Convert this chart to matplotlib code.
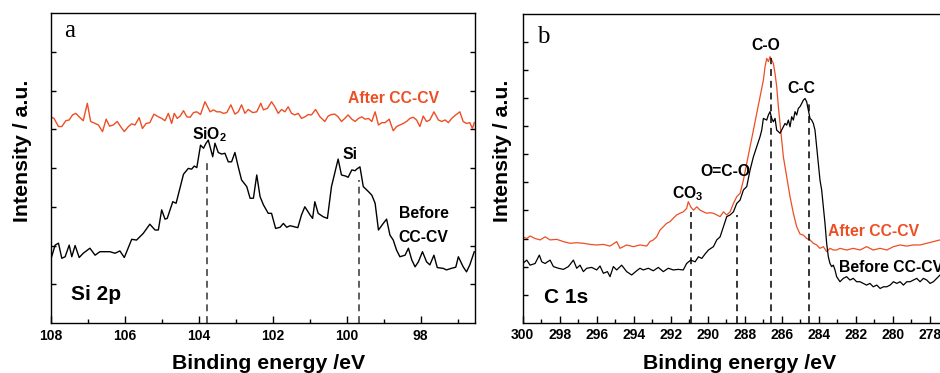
import matplotlib
matplotlib.use("Agg")
import matplotlib.pyplot as plt
from matplotlib.ticker import MultipleLocator, FixedLocator

plt.rcParams['font.family'] = ['Liberation Sans', 'DejaVu Sans']
plt.rcParams['font.weight'] = 'bold'
plt.rcParams['mathtext.fontset'] = 'custom'
plt.rcParams['mathtext.rm'] = 'Liberation Sans:bold'
plt.rcParams['mathtext.bf'] = 'Liberation Sans:bold'
plt.rcParams['mathtext.default'] = 'bf'

# ---------------- Data: Si 2p ----------------
si_e_before = [108.00, 107.88, 107.79, 107.70, 107.61, 107.50, 107.43, 107.34, 107.23, 107.12,
               106.94, 106.80, 106.67, 106.40, 106.26, 106.13, 106.01, 105.81, 105.68, 105.50,
               105.32, 105.18, 105.09, 105.00, 104.91, 104.85, 104.70, 104.61, 104.41, 104.28,
               104.19, 104.12, 104.05, 103.95, 103.87, 103.80, 103.74, 103.62, 103.56, 103.47,
               103.38, 103.29, 103.20, 103.11, 103.02, 102.93, 102.84, 102.70, 102.61, 102.52,
               102.43, 102.34, 102.25, 102.12, 102.03, 101.92, 101.80, 101.71, 101.62, 101.53,
               101.44, 101.32, 101.22, 101.13, 100.99, 100.92, 100.86, 100.77, 100.63, 100.52,
               100.41, 100.23, 100.14, 100.02, 99.96, 99.86, 99.77, 99.73, 99.64, 99.55,
               99.41, 99.32, 99.23, 99.14, 99.01, 98.92, 98.83, 98.74, 98.65, 98.56,
               98.42, 98.33, 98.24, 98.15, 98.06, 97.95, 97.84, 97.75, 97.64, 97.55,
               97.39, 97.30, 97.17, 97.05, 96.98, 96.85, 96.76, 96.67, 96.55]
si_before = [1.63, 2.01, 2.06, 1.67, 1.71, 2.01, 1.71, 2.00, 1.69, 1.80,
             1.93, 1.75, 1.84, 1.84, 1.80, 1.86, 1.69, 2.16, 2.14, 2.31,
             2.55, 2.40, 2.40, 2.92, 2.68, 2.70, 3.13, 3.09, 3.84, 3.99,
             3.97, 4.05, 4.01, 4.59, 4.51, 4.64, 4.72, 4.29, 4.64, 4.40,
             4.36, 4.38, 4.16, 4.16, 4.40, 4.03, 3.69, 3.52, 3.22, 3.22,
             3.82, 3.26, 3.05, 2.83, 2.83, 2.44, 2.47, 2.57, 2.47, 2.51,
             2.49, 2.46, 2.79, 3.00, 2.79, 2.70, 3.13, 2.83, 2.74, 2.70,
             3.52, 4.23, 3.82, 3.79, 3.76, 3.95, 3.93, 3.97, 4.03, 3.52,
             3.39, 3.30, 3.09, 2.40, 2.57, 2.68, 2.27, 2.14, 1.88, 1.71,
             1.75, 1.93, 1.63, 1.45, 1.58, 1.84, 1.58, 1.50, 1.75, 1.43,
             1.41, 1.37, 1.41, 1.44, 1.71, 1.45, 1.32, 1.50, 1.84]

si_e_after = [108.00, 107.91, 107.79, 107.70, 107.59, 107.50, 107.41, 107.32, 107.23, 107.12,
              107.01, 106.92, 106.80, 106.71, 106.60, 106.50, 106.41, 106.31, 106.20, 106.11,
              106.01, 105.90, 105.81, 105.72, 105.61, 105.52, 105.42, 105.32, 105.21, 105.09,
              105.00, 104.91, 104.82, 104.73, 104.66, 104.58, 104.50, 104.41, 104.32, 104.23,
              104.14, 104.05, 103.95, 103.83, 103.69, 103.60, 103.51, 103.42, 103.33, 103.24,
              103.13, 103.02, 102.93, 102.84, 102.75, 102.66, 102.54, 102.43, 102.32, 102.25,
              102.14, 102.03, 101.94, 101.85, 101.76, 101.67, 101.58, 101.49, 101.40, 101.31,
              101.22, 101.13, 101.04, 100.95, 100.84, 100.72, 100.59, 100.50, 100.41, 100.32,
              100.23, 100.14, 100.05, 99.96, 99.86, 99.77, 99.68, 99.59, 99.50, 99.41,
              99.32, 99.23, 99.14, 99.05, 98.96, 98.85, 98.74, 98.65, 98.56, 98.47,
              98.38, 98.29, 98.20, 98.11, 98.02, 97.93, 97.84, 97.75, 97.64, 97.52,
              97.43, 97.34, 97.25, 97.16, 97.05, 96.94, 96.85, 96.76, 96.67, 96.60, 96.55]
si_after = [5.32, 5.28, 5.07, 5.07, 5.22, 5.24, 5.37, 5.41, 5.32, 5.22,
            5.67, 5.20, 5.15, 5.11, 4.94, 5.26, 5.08, 5.11, 5.20, 5.07,
            4.94, 5.07, 5.14, 5.11, 5.30, 5.02, 5.15, 5.17, 5.39, 5.32,
            5.28, 5.22, 5.41, 5.15, 5.41, 5.28, 5.34, 5.48, 5.32, 5.31,
            5.43, 5.45, 5.38, 5.71, 5.45, 5.50, 5.45, 5.45, 5.41, 5.43,
            5.63, 5.39, 5.45, 5.63, 5.41, 5.51, 5.43, 5.45, 5.67, 5.50,
            5.54, 5.71, 5.58, 5.41, 5.51, 5.45, 5.58, 5.41, 5.37, 5.41,
            5.28, 5.32, 5.38, 5.37, 5.51, 5.32, 5.20, 5.34, 5.38, 5.39,
            5.32, 5.20, 5.28, 5.37, 5.26, 5.20, 5.28, 5.32, 5.26, 5.28,
            5.20, 5.45, 5.11, 5.17, 5.17, 5.26, 4.96, 5.07, 5.11, 5.15,
            5.20, 5.28, 5.31, 5.24, 5.07, 5.34, 5.20, 5.24, 5.45, 5.24,
            5.20, 5.24, 5.17, 5.28, 5.37, 5.45, 5.20, 5.15, 5.17, 5.02, 5.17]

si_peaks = [103.78, 99.67]
si_peak_tops = [4.22, 3.69]

# ---------------- Data: C 1s ----------------
c_e_before = [300.00, 299.78, 299.60, 299.33, 299.10, 298.97, 298.79, 298.52, 298.34, 298.07,
              297.80, 297.53, 297.26, 297.08, 296.90, 296.72, 296.54, 296.27, 296.00, 295.82,
              295.64, 295.42, 295.28, 295.10, 294.92, 294.65, 294.38, 294.11, 293.84, 293.66,
              293.48, 293.21, 292.94, 292.67, 292.40, 292.13, 291.86, 291.59, 291.32, 291.14,
              290.92, 290.68, 290.50, 290.32, 290.14, 289.96, 289.69, 289.51, 289.33, 289.15,
              288.97, 288.79, 288.61, 288.43, 288.25, 288.07, 287.89, 287.71, 287.53, 287.35,
              287.17, 287.08, 286.99, 286.81, 286.72, 286.63, 286.54, 286.45, 286.36, 286.27,
              286.18, 286.09, 285.91, 285.82, 285.73, 285.64, 285.55, 285.46, 285.37, 285.28,
              285.19, 285.10, 285.01, 284.92, 284.83, 284.74, 284.65, 284.56, 284.47, 284.38,
              284.29, 284.20, 284.11, 284.02, 283.93, 283.84, 283.75, 283.66, 283.57, 283.48,
              283.39, 283.30, 283.21, 283.12, 283.03, 282.85, 282.67, 282.49, 282.31, 282.13,
              281.95, 281.77, 281.59, 281.41, 281.23, 281.05, 280.86, 280.68, 280.50, 280.32,
              280.14, 279.96, 279.78, 279.60, 279.42, 279.24, 279.06, 278.88, 278.70, 278.52,
              278.34, 278.16, 277.98, 277.80, 277.62, 277.44]
c_before = [2.11, 2.23, 2.05, 2.11, 2.41, 2.17, 2.11, 2.23, 2.00, 1.94,
            1.90, 2.00, 2.23, 1.94, 2.05, 1.82, 1.94, 1.97, 1.88, 2.02,
            1.76, 1.82, 1.64, 2.00, 1.88, 2.05, 1.82, 1.70, 1.85, 1.94,
            1.88, 1.94, 1.85, 1.97, 1.82, 1.94, 1.88, 1.90, 1.88, 2.11,
            2.23, 2.17, 2.35, 2.29, 2.45, 2.59, 2.71, 2.95, 3.06, 3.42,
            3.78, 3.84, 3.95, 4.25, 4.37, 4.73, 4.85, 5.44, 5.91, 6.27,
            6.63, 6.86, 7.28, 7.22, 7.40, 7.52, 7.28, 7.16, 7.28, 6.86,
            6.81, 6.75, 6.98, 7.10, 7.04, 7.22, 6.98, 7.34, 7.22, 7.52,
            7.40, 7.64, 7.70, 7.81, 7.93, 7.99, 7.87, 7.58, 7.28, 7.22,
            7.10, 6.86, 6.27, 5.68, 5.08, 4.73, 4.13, 3.54, 2.83, 2.35,
            2.11, 2.00, 2.05, 1.88, 1.64, 1.46, 1.58, 1.64, 1.52, 1.58,
            1.46, 1.46, 1.40, 1.34, 1.40, 1.28, 1.34, 1.22, 1.28, 1.28,
            1.34, 1.46, 1.40, 1.46, 1.34, 1.46, 1.46, 1.52, 1.58, 1.46,
            1.58, 1.52, 1.40, 1.46, 1.58, 1.70]

c_e_after = [300.00, 299.78, 299.60, 299.33, 299.06, 298.79, 298.52, 298.16, 297.80, 297.44,
             297.08, 296.72, 296.36, 296.00, 295.64, 295.28, 294.92, 294.74, 294.38, 294.02,
             293.66, 293.30, 293.12, 292.94, 292.76, 292.58, 292.40, 292.22, 292.04, 291.86,
             291.68, 291.50, 291.32, 291.14, 291.05, 290.92, 290.77, 290.59, 290.41, 290.23,
             290.05, 289.87, 289.69, 289.51, 289.33, 289.15, 288.97, 288.79, 288.61, 288.43,
             288.25, 288.07, 287.89, 287.71, 287.53, 287.35, 287.17, 286.99, 286.90, 286.81,
             286.72, 286.63, 286.54, 286.45, 286.36, 286.27, 286.18, 286.09, 286.00, 285.91,
             285.73, 285.55, 285.37, 285.19, 285.01, 284.83, 284.65, 284.47, 284.29, 284.11,
             283.93, 283.75, 283.57, 283.39, 283.21, 283.03, 282.85, 282.49, 282.13, 281.77,
             281.41, 281.05, 280.68, 280.32, 279.96, 279.60, 279.24, 278.88, 278.52, 278.16,
             277.80, 277.44]
c_after = [3.06, 3.00, 3.09, 3.00, 2.95, 3.06, 2.95, 2.97, 2.89, 2.83,
           2.85, 2.83, 2.79, 2.77, 2.79, 2.73, 2.89, 2.65, 2.77, 2.71,
           2.77, 2.73, 2.89, 2.95, 3.06, 3.30, 3.42, 3.54, 3.60, 3.72,
           3.84, 3.90, 3.95, 4.07, 4.31, 4.13, 4.01, 4.13, 4.01, 3.95,
           3.90, 3.92, 3.90, 3.84, 3.78, 3.95, 3.84, 3.95, 4.25, 4.49,
           4.61, 5.08, 5.68, 6.27, 6.86, 7.46, 8.05, 8.65, 9.12, 9.42,
           9.30, 9.48, 9.36, 9.24, 8.88, 8.41, 7.70, 7.10, 6.51, 5.91,
           5.20, 4.49, 3.90, 3.42, 3.16, 3.12, 3.00, 2.95, 2.83, 2.77,
           2.65, 2.71, 2.53, 2.65, 2.59, 2.59, 2.65, 2.59, 2.65, 2.59,
           2.71, 2.59, 2.65, 2.59, 2.71, 2.77, 2.73, 2.77, 2.77, 2.83,
           2.89, 2.95]

c_peaks = [290.9, 288.4, 286.6, 284.55]
c_peak_tops = [3.96, 3.84, 9.42, 7.87]

# ---------------- Figure ----------------
RED = '#EE4E24'
W, H = 940, 373
fig = plt.figure(figsize=(W / 100, H / 100), dpi=100)

axL = fig.add_axes([50.7 / W, (H - 323) / H, (475 - 50.7) / W, 310 / H])
axR = fig.add_axes([522.7 / W, (H - 322.7) / H, 444 / W, 308.7 / H])

for ax in (axL, axR):
    for s in ax.spines.values():
        s.set_linewidth(1.0)
    ax.tick_params(axis='x', which='major', direction='in', length=5, width=1.0,
                   labelsize=10, pad=4)
    ax.tick_params(axis='x', which='minor', direction='in', length=3, width=1.0)
    ax.tick_params(axis='y', which='major', direction='in', length=3.5, width=1.0,
                   left=True, right=True, labelleft=False, labelright=False)
    ax.tick_params(axis='y', which='minor', left=False, right=False)
    ax.xaxis.set_major_locator(MultipleLocator(2))
    ax.xaxis.set_minor_locator(MultipleLocator(1))
    for lab in ax.get_xticklabels():
        lab.set_fontweight('bold')

# Left panel
axL.plot(si_e_after, si_after, color=RED, lw=1.0)
axL.plot(si_e_before, si_before, color='black', lw=1.0)
for e, t in zip(si_peaks, si_peak_tops):
    axL.plot([e, e], [0, t], color='#333333', lw=1.1, dashes=(4.5, 3.2))
axL.set_xlim(108, 96.53)
axL.set_ylim(0, 8)
axL.yaxis.set_major_locator(FixedLocator([1, 2, 3, 4, 5, 6, 7]))

fs = 11.3
axL.text(98.72, 5.67, 'After CC-CV', color=RED, fontsize=fs, ha='center', va='baseline', fontweight='bold')
axL.text(103.71, 4.75, r'SiO$_2$', color='black', fontsize=fs, ha='center', va='baseline', fontweight='bold')
axL.text(99.91, 4.23, 'Si', color='black', fontsize=fs, ha='center', va='baseline', fontweight='bold')
axL.text(98.59, 2.71, 'Before', color='black', fontsize=fs, ha='left', va='baseline', fontweight='bold')
axL.text(98.59, 2.09, 'CC-CV', color='black', fontsize=fs, ha='left', va='baseline', fontweight='bold')
axL.text(107.45, 0.59, 'Si 2p', color='black', fontsize=15, ha='left', va='baseline', fontweight='bold')
axL.text(107.63, 7.39, 'a', color='black', fontsize=18, ha='left', va='baseline',
         family=['Liberation Serif'], fontweight='normal')

# Right panel
axR.plot(c_e_after, c_after, color=RED, lw=0.9)
axR.plot(c_e_before, c_before, color='black', lw=0.9)
for e, t in zip(c_peaks, c_peak_tops):
    axR.plot([e, e], [0, t], color='black', lw=1.1, dashes=(4.5, 3.2))
axR.set_xlim(300, 276)
axR.set_ylim(0, 11)
axR.yaxis.set_major_locator(FixedLocator(list(range(1, 11))))

axR.text(299.24, 9.96, 'b', color='black', fontsize=18, ha='left', va='baseline',
         family=['Liberation Serif'], fontweight='normal')
axR.text(286.86, 9.72, 'C-O', color='black', fontsize=fs, ha='center', va='baseline', fontweight='bold')
axR.text(284.94, 8.18, 'C-C', color='black', fontsize=fs, ha='center', va='baseline', fontweight='bold')
axR.text(289.06, 5.23, 'O=C-O', color='black', fontsize=fs, ha='center', va='baseline', fontweight='bold')
axR.text(291.06, 4.43, r'CO$_3$', color='black', fontsize=fs, ha='center', va='baseline', fontweight='bold')
axR.text(283.48, 3.09, 'After CC-CV', color=RED, fontsize=fs, ha='left', va='baseline', fontweight='bold')
axR.text(282.89, 1.82, 'Before CC-CV', color='black', fontsize=fs, ha='left', va='baseline', fontweight='bold')
axR.text(298.85, 0.69, 'C 1s', color='black', fontsize=15, ha='left', va='baseline', fontweight='bold')

# Axis labels
fig.text(268.8 / W, (H - 369.3) / H, 'Binding energy /eV', fontsize=15.3, fontweight='bold',
         ha='center', va='baseline')
fig.text(739.7 / W, (H - 369.3) / H, 'Binding energy /eV', fontsize=15.3, fontweight='bold',
         ha='center', va='baseline')
fig.text(23 / W, (H - 151) / H, 'Intensity / a.u.', fontsize=15.3, fontweight='bold',
         rotation=90, ha='center', va='center')
fig.text(503 / W, (H - 151) / H, 'Intensity / a.u.', fontsize=15.3, fontweight='bold',
         rotation=90, ha='center', va='center')

fig.savefig('out.png', dpi=100)
